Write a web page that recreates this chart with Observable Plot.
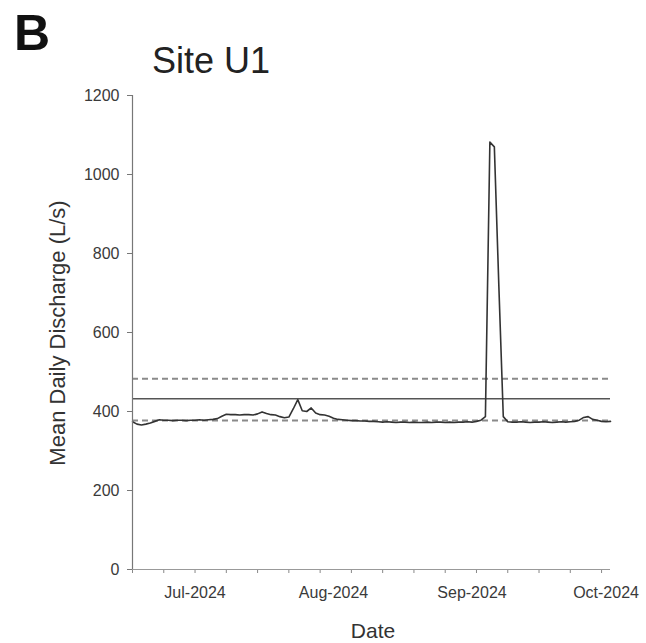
<!DOCTYPE html>
<html>
<head>
<meta charset="utf-8">
<script src="https://cdn.jsdelivr.net/npm/d3@7"></script>
<script src="https://cdn.jsdelivr.net/npm/@observablehq/plot@0.6"></script>
<style>
  html, body { margin: 0; padding: 0; background: #fff; }
  #fig { position: relative; width: 646px; height: 643px; font-family: "Liberation Sans", Arial, sans-serif; color: #222; }
  #fig svg { position: absolute; left: 0; top: 0; }
  .ov { position: absolute; white-space: nowrap; line-height: 1; }
</style>
</head>
<body>
<div id="fig">
  <div class="ov" id="panel" style="left:14px; top:8px; font-size:50px; font-weight:bold; color:#111;">B</div>
  <div class="ov" id="title" style="left:152px; top:43px; font-size:36px; color:#222;">Site U1</div>
  <div class="ov" id="ylab" style="left:58px; top:333px; font-size:22px; color:#333; transform: translate(-50%,-50%) rotate(-90deg);">Mean Daily Discharge (L/s)</div>
  <div class="ov" id="xlab" style="left:373px; top:630px; font-size:21px; color:#333; transform: translate(-50%,-50%);">Date</div>
</div>
<script>
// ---- data ----
const startDate = "2024-06-17";
const endDate = "2024-10-02";
const discharge = [
  374, 368, 366, 368, 371, 375, 379,
  378, 378, 377, 378, 378, 377, 378, 378, 379, 378, 379, 380, 382,
  388, 393, 392, 392, 391, 392, 392, 391, 394, 399, 395, 392, 391, 387, 384, 386,
  407, 430, 402, 400, 409, 396, 392, 391, 388,
  383, 380, 379, 378, 377, 377, 376, 376, 375, 375, 374,
  373, 374, 373, 372, 373, 373, 372, 373, 372, 372, 373, 372, 373, 373, 372, 373, 372, 373, 373, 374, 373, 375,
  378, 387, 1082, 1070, 720, 387, 374,
  373, 373, 374, 373, 372, 373, 373, 374, 373, 372, 373, 374, 373, 374, 375,
  378, 385, 387, 380, 378, 375, 374, 375
];
const upperDashed = [483];
const solidLine = [432];
const lowerDashed = [377];
const yTicks = [0, 200, 400, 600, 800, 1000, 1200];
const monthTicks = ["2024-07-01", "2024-08-01", "2024-09-01", "2024-10-01"];

// ---- build table ----
const t0 = new Date(startDate + "T00:00:00Z");
const t1 = new Date(endDate + "T00:00:00Z");
const rows = discharge.map((v, i) => ({ date: d3.utcDay.offset(t0, i), value: v }));
const months = monthTicks.map(s => new Date(s + "T00:00:00Z"));
const weeks = d3.utcMonday.range(t0, d3.utcDay.offset(t1, 1));

const plot = Plot.plot({
  width: 646,
  height: 643,
  marginLeft: 132,
  marginRight: 36,
  marginTop: 95,
  marginBottom: 74,
  style: { fontFamily: '"Liberation Sans", Arial, sans-serif', fontSize: "16px", color: "#3a3a3a", background: "transparent", overflow: "visible" },
  x: { type: "utc", domain: [t0, t1] },
  y: { domain: [0, 1200] },
  marks: [
    Plot.axisY({ ticks: yTicks, tickSize: 5, tickPadding: 8, tickFormat: d3.format("d"), label: null, stroke: "#777", fontSize: 16 }),
    Plot.axisX({ ticks: weeks, tickSize: 4, tickFormat: () => "", label: null, stroke: "#888" }),
    Plot.axisX({ ticks: months, tickSize: 0, tickPadding: 17, tickFormat: d3.utcFormat("%b-%Y"), label: null, fontSize: 16 }),
    Plot.ruleY(upperDashed, { stroke: "#8a8a8a", strokeWidth: 2, strokeDasharray: "6,4" }),
    Plot.ruleY(lowerDashed, { stroke: "#8a8a8a", strokeWidth: 2, strokeDasharray: "6,4" }),
    Plot.ruleY(solidLine, { stroke: "#555", strokeWidth: 1.5 }),
    Plot.lineY(rows, { x: "date", y: "value", stroke: "#333", strokeWidth: 1.6 }),
    Plot.ruleX([t0], { stroke: "#777", strokeWidth: 1.2 }),
    Plot.ruleY([0], { stroke: "#999", strokeWidth: 1.2 })
  ]
});
document.getElementById("fig").prepend(plot);
</script>
</body>
</html>
